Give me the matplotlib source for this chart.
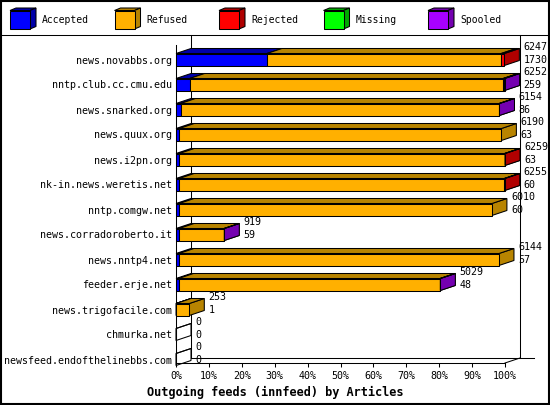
import matplotlib
matplotlib.use("Agg")
import matplotlib.pyplot as plt
from matplotlib.patches import Polygon, Rectangle
from matplotlib.lines import Line2D

# ---------------- data ----------------
hosts = ["news.novabbs.org", "nntp.club.cc.cmu.edu", "news.snarked.org",
         "news.quux.org", "news.i2pn.org", "nk-in.news.weretis.net",
         "nntp.comgw.net", "news.corradoroberto.it", "news.nntp4.net",
         "feeder.erje.net", "news.trigofacile.com", "chmurka.net",
         "newsfeed.endofthelinebbs.com"]
offered  = [6247, 6252, 6154, 6190, 6259, 6255, 6010, 919, 6144, 5029, 253, 0, 0]
accepted = [1730, 259, 86, 63, 63, 60, 60, 59, 57, 48, 1, 0, 0]
refused  = [4457, 5963, 6062, 6127, 6188, 6185, 5950, 856, 6087, 4976, 252, 0, 0]
rejected = [60, 20, 0, 0, 8, 10, 0, 0, 0, 0, 0, 0, 0]
missing  = [0, 0, 0, 0, 0, 0, 0, 0, 0, 0, 0, 0, 0]
spooled  = [0, 10, 6, 0, 0, 0, 0, 4, 0, 5, 0, 0, 0]

series_names = ["Accepted", "Refused", "Rejected", "Missing", "Spooled"]
series_vals = [accepted, refused, rejected, missing, spooled]
front_cols = ["#0000FF", "#FFB000", "#FF0000", "#00FF00", "#A800FF"]
dark_cols = ["#0000A8", "#B88400", "#B00000", "#00A800", "#7400B0"]
xticks = list(range(0, 101, 10))
xticklabels = [f"{t}%" for t in xticks]
title = "Outgoing feeds (innfeed) by Articles"

# ---------------- layout ----------------
W, H = 550, 405
fig = plt.figure(figsize=(W / 100, H / 100), dpi=100)
fig.patch.set_facecolor("white")
MONO = "DejaVu Sans Mono"
LW = 0.75

# overlay axes in pixel coordinates (frame + legend)
ov = fig.add_axes([0, 0, 1, 1])
ov.set_xlim(0, W)
ov.set_ylim(H, 0)
ov.set_axis_off()
ov.add_patch(Rectangle((0.5, 0.5), W - 1.5, H - 1.5, fill=False, ec="black", lw=1.5))
ov.add_line(Line2D([0, W], [35, 35], color="black", lw=LW))

for k, name in enumerate(series_names):
    x0 = 10 + 104.5 * k
    fw, fh, ddx, ddy, top = 20, 18.5, 6, 2.5, 10.5
    ov.add_patch(Polygon([(x0, top), (x0 + fw, top), (x0 + fw + ddx, top - ddy), (x0 + ddx, top - ddy)],
                         closed=True, fc=dark_cols[k], ec="black", lw=LW))
    ov.add_patch(Polygon([(x0 + fw, top), (x0 + fw + ddx, top - ddy), (x0 + fw + ddx, top + fh - ddy), (x0 + fw, top + fh)],
                         closed=True, fc=dark_cols[k], ec="black", lw=LW))
    ov.add_patch(Rectangle((x0, top), fw, fh, fc=front_cols[k], ec="black", lw=LW))
    ov.text(x0 + 32, 20, name, family=MONO, fontsize=7.0, va="center", ha="left")

# main axes: front plane 0..100% maps to px 176..505
PX_PER_PCT = (505 - 176) / 100
ROW0, ROW_PX = 59.5, 25
Y_TOP_PX, Y_BOT_PX = 45, 363
ax = fig.add_axes([176 / W, 1 - Y_BOT_PX / H, (505 - 176) / W, (Y_BOT_PX - Y_TOP_PX) / H])
ax.set_facecolor("none")
ybot = (Y_BOT_PX - ROW0) / ROW_PX
ytop = (Y_TOP_PX - ROW0) / ROW_PX
ax.set_xlim(0, 100)
ax.set_ylim(ybot, ytop)

DX = 15 / PX_PER_PCT
DY = 5 / ROW_PX
HH = 6 / ROW_PX
wall_top = (35 - ROW0) / ROW_PX

# back walls / floor
ax.add_line(Line2D([DX, DX], [ybot - DY, wall_top], color="black", lw=LW, clip_on=False))
ax.add_line(Line2D([100 + DX, 100 + DX], [ybot - DY, wall_top], color="black", lw=LW, clip_on=False))
ax.add_line(Line2D([DX, (534 - 176) / PX_PER_PCT], [ybot - DY, ybot - DY], color="black", lw=LW, clip_on=False))
ax.add_line(Line2D([100, 100 + DX], [ybot, ybot - DY], color="black", lw=LW, clip_on=False))

maxv = max(offered)


def box(x0, x1, yc, fc, dc):
    t, b = yc - HH, yc + HH
    ax.add_patch(Polygon([(x1, t), (x1 + DX, t - DY), (x1 + DX, b - DY), (x1, b)],
                         closed=True, fc=dc, ec="black", lw=LW, clip_on=False, zorder=3))
    ax.add_patch(Polygon([(x0, t), (x1, t), (x1 + DX, t - DY), (x0 + DX, t - DY)],
                         closed=True, fc=dc, ec="black", lw=LW, clip_on=False, zorder=3))
    ax.add_patch(Polygon([(x0, t), (x1, t), (x1, b), (x0, b)],
                         closed=True, fc=fc, ec="black", lw=LW, clip_on=False, zorder=3))


for i, host in enumerate(hosts):
    cum = 0.0
    drawn = False
    for s, vals in enumerate(series_vals):
        v = vals[i]
        if v <= 0:
            continue
        x0 = cum / maxv * 100
        cum += v
        x1 = cum / maxv * 100
        box(x0, x1, i, front_cols[s], dark_cols[s])
        drawn = True
    if not drawn:
        box(0, 0, i, "none", "none")
    xend = cum / maxv * 100 + DX + 4 / PX_PER_PCT
    ax.text(xend, i - 12.5 / ROW_PX, str(offered[i]), family=MONO, fontsize=7.2,
            va="center", ha="left", clip_on=False)
    ax.text(xend, i + 0.5 / ROW_PX, str(accepted[i]), family=MONO, fontsize=7.2,
            va="center", ha="left", clip_on=False)

# axes styling
for sp in ["top", "right"]:
    ax.spines[sp].set_visible(False)
for sp in ["left", "bottom"]:
    ax.spines[sp].set_linewidth(LW)
ax.set_xticks(xticks)
ax.set_xticklabels(xticklabels, family=MONO, fontsize=7.2)
ax.tick_params(axis="x", direction="out", length=3, width=LW, pad=2.5)
ax.set_yticks(range(len(hosts)))
ax.set_yticklabels(hosts, family=MONO, fontsize=7.2)
ax.tick_params(axis="y", length=0, pad=3)

fig.text(0.5, 1 - 392 / H, title, family=MONO, fontweight="bold", fontsize=8.6,
         ha="center", va="center")

fig.savefig("out.png", dpi=100)
